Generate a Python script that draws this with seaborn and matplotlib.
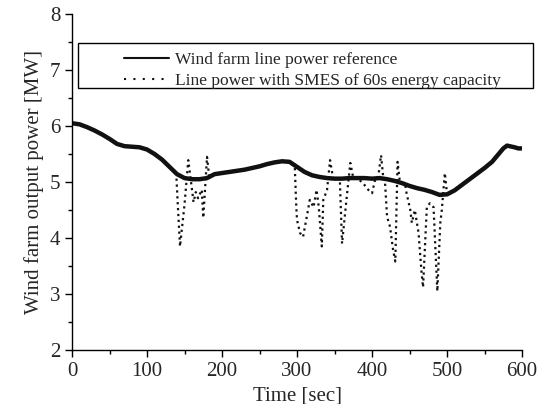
import numpy as np
import pandas as pd
import seaborn as sns
import matplotlib.pyplot as plt
from matplotlib.ticker import MultipleLocator
from matplotlib.patches import Rectangle

# wind farm line power reference
ref_time = [0, 10, 20, 30, 40, 50, 60, 70, 80, 90, 100, 110, 120, 130, 140,
            150, 160, 170, 180, 190, 200, 210, 220, 230, 240, 250, 260, 270,
            280, 290, 300, 310, 320, 330, 340, 350, 360, 370, 380, 390, 400,
            410, 420, 430, 440, 450, 460, 470, 480, 490, 500, 510, 520, 530,
            540, 550, 560, 570, 575, 580, 590, 595, 600]
ref_power = [6.05, 6.03, 5.98, 5.92, 5.85, 5.77, 5.68, 5.64, 5.63, 5.62, 5.58,
             5.50, 5.40, 5.27, 5.14, 5.07, 5.05, 5.05, 5.07, 5.14, 5.16, 5.18,
             5.20, 5.22, 5.25, 5.28, 5.32, 5.35, 5.37, 5.36, 5.27, 5.18, 5.12,
             5.09, 5.07, 5.06, 5.06, 5.07, 5.07, 5.07, 5.06, 5.07, 5.05, 5.02,
             4.98, 4.93, 4.89, 4.86, 4.82, 4.77, 4.78, 4.85, 4.95, 5.05, 5.15,
             5.25, 5.36, 5.52, 5.60, 5.65, 5.62, 5.60, 5.60]

# line power with SMES of 60s energy capacity
smes_time = [0, 10, 20, 30, 40, 50, 60, 70, 80, 90, 100, 110, 120, 130,
             139, 141, 144, 150, 155, 160, 162, 165, 168, 173, 175, 180, 183,
             190, 200, 210, 220, 230, 240, 250, 260, 270, 280, 290,
             297, 299, 300, 304, 308, 313, 317, 322, 326, 329, 333, 335, 340,
             344, 348, 352, 357, 360, 366, 371, 375, 380,
             388, 395, 400, 404, 408, 412, 415, 417, 420, 424, 428, 431, 434,
             437, 440, 444, 446, 451, 453, 457, 462, 466, 468, 473, 477, 482,
             487, 491, 493, 497, 500, 510, 520, 530, 540, 550, 560, 570, 575,
             580, 590, 595, 600]
smes_power = [6.05, 6.03, 5.98, 5.92, 5.85, 5.77, 5.68, 5.64, 5.63, 5.62,
              5.58, 5.50, 5.40, 5.27,
              5.14, 4.60, 3.85, 4.60, 5.39, 4.86, 4.64, 4.82, 4.71, 4.86,
              4.36, 5.45, 5.08,
              5.14, 5.16, 5.18, 5.20, 5.22, 5.25, 5.28, 5.32, 5.35, 5.37, 5.36,
              5.27, 4.55, 4.32, 4.09, 4.02, 4.38, 4.68, 4.55, 4.86, 4.55,
              3.85, 4.68, 4.86,
              5.39, 5.07, 5.06, 5.06, 3.90, 4.70, 5.34, 5.07, 5.07,
              4.98, 4.86, 4.80, 5.04, 5.06, 5.48, 5.07, 5.06, 4.38, 4.20,
              3.79, 3.58, 5.36,
              5.01, 4.98, 4.97, 4.80, 4.50, 4.27, 4.50, 4.09, 3.38, 3.12,
              4.55, 4.62, 4.55,
              3.05, 4.27, 4.50, 5.16, 4.78, 4.85, 4.95, 5.05, 5.15, 5.25,
              5.36, 5.52, 5.60, 5.65, 5.62, 5.60, 5.60]

ref_df = pd.DataFrame({"time": ref_time, "power": ref_power})
smes_df = pd.DataFrame({"time": smes_time, "power": smes_power})

sns.set_style("ticks")
plt.rcParams["font.family"] = ["Liberation Serif", "DejaVu Serif"]
plt.rcParams["xtick.direction"] = "out"
plt.rcParams["ytick.direction"] = "out"

fig = plt.figure(figsize=(5.39, 4.04), dpi=100)
ax = fig.add_axes([0.1336, 0.1337, 0.835, 0.8316])

sns.lineplot(data=ref_df, x="time", y="power", ax=ax, color="#111111",
             linewidth=3.2, label="Wind farm line power reference")
sns.lineplot(data=smes_df, x="time", y="power", ax=ax, color="#111111",
             linewidth=1.6, linestyle=":",
             label="Line power with SMES of 60s energy capacity")

ax.set_xlim(0, 600)
ax.set_ylim(2, 8)
ax.xaxis.set_major_locator(MultipleLocator(100))
ax.xaxis.set_minor_locator(MultipleLocator(50))
ax.yaxis.set_major_locator(MultipleLocator(1))
ax.yaxis.set_minor_locator(MultipleLocator(0.5))
ax.tick_params(which="major", length=5, width=1, labelsize=15, color="black")
ax.tick_params(which="minor", length=3, width=1, color="black")
for s in ["top", "right"]:
    ax.spines[s].set_visible(False)
for s in ["left", "bottom"]:
    ax.spines[s].set_color("black")
    ax.spines[s].set_linewidth(1)

ax.set_xlabel("Time [sec]", fontsize=15)
ax.set_ylabel("Wind farm output power [MW]", fontsize=15)

leg = ax.legend(loc="upper left", bbox_to_anchor=(0.097, 0.914),
                frameon=False, borderpad=0, fontsize=12.5, handlelength=2.6,
                handletextpad=0.3, labelspacing=0.32)
handles = leg.get_lines()
handles[0].set_linewidth(1.5)
handles[1].set_linewidth(1.5)
handles[1].set_dashes((1, 3.5))
ax.add_patch(Rectangle((0.0133, 0.78), 1.011, 0.134, transform=ax.transAxes,
                       fill=False, edgecolor="black", linewidth=1,
                       clip_on=False))

fig.savefig("out.png", dpi=100)
plt.close(fig)
